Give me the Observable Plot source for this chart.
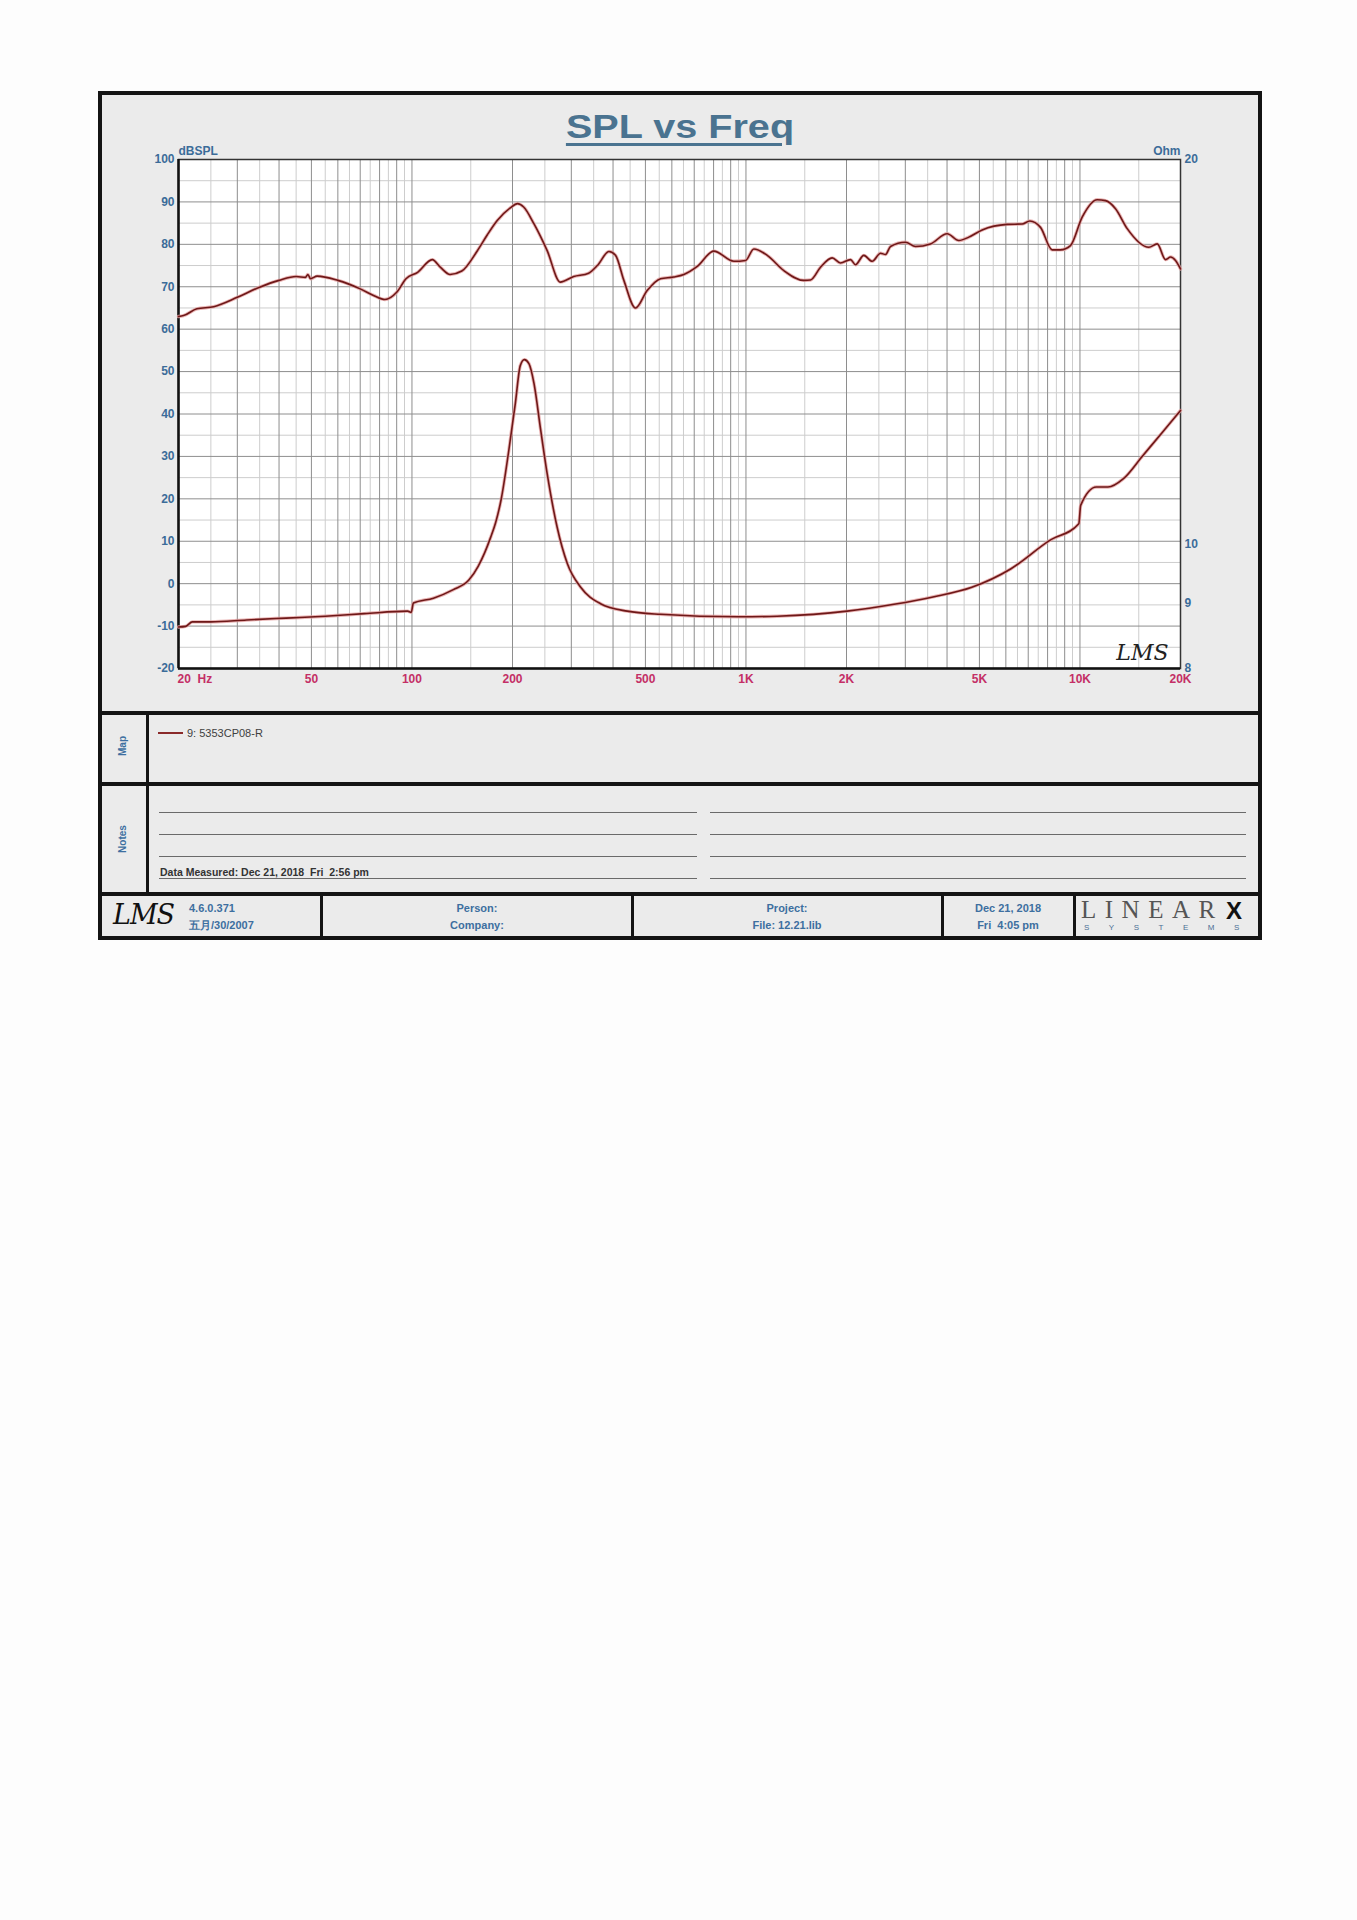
<!DOCTYPE html>
<html>
<head>
<meta charset="utf-8">
<script src="https://cdn.jsdelivr.net/npm/d3@7"></script>
<script src="https://cdn.jsdelivr.net/npm/@observablehq/plot@0.6"></script>
<style>
html,body{margin:0;padding:0;background:#fdfdfd;}
body{position:relative;width:1357px;height:1920px;overflow:hidden;font-family:Arial,"Liberation Sans",sans-serif;}
.box{position:absolute;box-sizing:border-box;}
.blk{position:absolute;background:#141414;}
.ln{position:absolute;height:1px;background:#6a6a6a;}
.t{position:absolute;white-space:pre;line-height:1;}
.blue{color:#3d6fa0;font-weight:bold;font-size:11px;}
.c{transform:translateX(-50%);text-align:center;}
</style>
</head>
<body>
<!-- outer frame and panel separators -->
<div class="box" style="left:98px;top:91px;width:1164px;height:849px;border:4px solid #141414;background:#ebebeb;"></div>
<div class="blk" style="left:98px;top:711px;width:1164px;height:4px;"></div>
<div class="blk" style="left:98px;top:782px;width:1164px;height:4px;"></div>
<div class="blk" style="left:98px;top:892px;width:1164px;height:4px;"></div>
<div class="blk" style="left:146px;top:711px;width:3px;height:185px;"></div>
<div class="blk" style="left:320px;top:892px;width:3px;height:48px;"></div>
<div class="blk" style="left:631px;top:892px;width:3px;height:48px;"></div>
<div class="blk" style="left:941px;top:892px;width:3px;height:48px;"></div>
<div class="blk" style="left:1073px;top:892px;width:3px;height:48px;"></div>

<!-- title -->
<div class="t" style="left:680px;top:110px;font-size:33px;font-weight:bold;color:#4a7390;text-decoration:underline;text-decoration-thickness:3px;text-underline-offset:5px;transform:translateX(-50%) scaleX(1.2);">SPL vs Freq</div>

<!-- chart -->
<div id="chart" style="position:absolute;left:120px;top:110px;width:1110px;height:590px;">
  <div id="p1" style="position:absolute;left:0;top:0;"></div>
  <div id="p2" style="position:absolute;left:0;top:0;"></div>
</div>

<!-- map panel -->
<div class="t blue" style="left:123px;top:746px;font-size:10px;transform:translate(-50%,-50%) rotate(-90deg);">Map</div>
<div style="position:absolute;left:158px;top:732px;width:25px;height:2px;background:#8a2a2a;"></div>
<div class="t" style="left:187px;top:728px;font-size:11px;color:#404040;">9: 5353CP08-R</div>

<!-- notes panel -->
<div class="t blue" style="left:123px;top:839px;font-size:10px;transform:translate(-50%,-50%) rotate(-90deg);">Notes</div>
<div class="ln" style="left:159px;top:812px;width:538px;"></div>
<div class="ln" style="left:159px;top:834px;width:538px;"></div>
<div class="ln" style="left:159px;top:856px;width:538px;"></div>
<div class="ln" style="left:159px;top:878px;width:538px;"></div>
<div class="ln" style="left:710px;top:812px;width:536px;"></div>
<div class="ln" style="left:710px;top:834px;width:536px;"></div>
<div class="ln" style="left:710px;top:856px;width:536px;"></div>
<div class="ln" style="left:710px;top:878px;width:536px;"></div>
<div class="t" style="left:160px;top:867px;font-size:10.5px;font-weight:bold;color:#333;">Data Measured: Dec 21, 2018  Fri  2:56 pm</div>

<!-- footer -->
<div class="t" style="left:113px;top:901px;font-size:27px;font-style:italic;font-family:'DejaVu Serif',serif;color:#111;letter-spacing:-1px;">LMS</div>
<div class="t blue" style="left:189px;top:903px;">4.6.0.371</div>
<div class="t blue" style="left:189px;top:920px;">五月/30/2007</div>
<div class="t blue c" style="left:477px;top:903px;">Person:</div>
<div class="t blue c" style="left:477px;top:920px;">Company:</div>
<div class="t blue c" style="left:787px;top:903px;">Project:</div>
<div class="t blue c" style="left:787px;top:920px;">File: 12.21.lib</div>
<div class="t blue c" style="left:1008px;top:903px;">Dec 21, 2018</div>
<div class="t blue c" style="left:1008px;top:920px;">Fri  4:05 pm</div>
<div class="t" style="left:1081px;top:897px;font-size:25px;font-family:'Liberation Serif','DejaVu Serif',serif;color:#555;letter-spacing:8.5px;">LINEAR</div>
<div class="t" style="left:1226px;top:899px;font-size:24px;font-weight:900;font-family:Arial,'Liberation Sans',sans-serif;color:#111;">X</div>
<div class="t" style="left:1084px;top:924px;font-size:8px;color:#4a6f95;letter-spacing:19.5px;">SYSTEMS</div>

<script>
// ---- data ----
// SPL curve (Hz, dB SPL)
const splFreq = [20,20.7,22.7,25.5,30,35,40,45,48,48.8,49.7,52,60,70,77,83,90,96,104,115,122,130,141,157,168,180,197,207,216,232,254,278,305,338,359,389,407,431,467,506,555,608,652,715,801,920,997,1056,1158,1299,1491,1561,1672,1812,1918,2056,2128,2253,2388,2529,2618,2709,3004,3218,3568,4004,4338,4648,5097,6057,6716,7078,7618,8258,8743,9369,10154,11262,11922,12776,13851,16078,17034,18040,18675,19322,20000];
const splDb = [63.0,63.2,64.8,65.3,67.5,69.9,71.5,72.4,72.2,72.9,71.9,72.5,71.5,69.5,67.9,67.0,68.7,71.9,73.4,76.4,74.5,72.9,73.7,78.5,82.2,85.6,88.6,89.6,88.8,84.8,78.5,71.1,72.4,73.2,75.0,78.3,77.4,71.5,65.0,69.1,71.9,72.3,72.9,74.8,78.4,76.0,76.2,78.9,77.4,73.8,71.5,71.6,74.6,76.8,75.6,76.4,75.2,77.4,76.0,77.9,77.6,79.5,80.5,79.5,80.1,82.5,80.9,81.7,83.4,84.7,84.8,85.5,84.0,78.7,78.7,79.7,86.4,90.5,90.3,88.4,83.7,79.3,80.1,76.4,77.0,76.2,74.2];
// Impedance curve (Hz, Ohm)
const zFreq = [20,21,22,25,32,42,55,72,97,99.5,101,116,133,148,158,165,172,178,185,195,204,211,217,224,232,243,254,272,292,320,367,441,555,950,1240,2010,2775,3630,4745,6200,8100,9920,10050,11200,12130,13500,15440,17660,20000];
const zOhm = [8.62,8.63,8.70,8.70,8.73,8.76,8.79,8.83,8.87,8.85,9.00,9.08,9.22,9.38,9.62,9.85,10.13,10.40,10.85,11.85,12.9,13.8,13.95,13.85,13.36,12.28,11.36,10.32,9.66,9.26,8.99,8.87,8.82,8.78,8.79,8.87,8.98,9.10,9.26,9.57,10.07,10.38,10.73,11.09,11.09,11.26,11.74,12.24,12.73];

// tick labels
const xTickVals = [20,50,100,200,500,1000,2000,5000,10000,20000];
const xTickLabels = ["20\u00a0\u00a0Hz","50","100","200","500","1K","2K","5K","10K","20K"];
const dbTicks = [-20,-10,0,10,20,30,40,50,60,70,80,90,100];
const ohmTicks = [8,9,10,20];
const axisTitleLeft = "dBSPL";
const axisTitleRight = "Ohm";

// grid values (1-9 x decade dark, half steps light)
const decadeStarts = [10,100,1000,10000];
const gridMajorHz = decadeStarts.flatMap(d => [1,2,3,4,5,6,7,8,9].map(m => m*d)).filter(v => v>=20 && v<=20000);
const gridHalfHz = decadeStarts.flatMap(d => [1.5,2.5,3.5,4.5,5.5,6.5,7.5,8.5,9.5].map(m => m*d)).filter(v => v>20 && v<20000);
const gridMajorDb = dbTicks.slice(1,-1);
const gridHalfDb = dbTicks.slice(0,-1).map(v => v+5);

const spl = splFreq.map((f,i) => ({f, v: splDb[i]}));
const imp = zFreq.map((f,i) => ({f, z: zOhm[i]}));
const xLab = xTickVals.map((v,i) => ({v, label: xTickLabels[i]}));

const font = 'Arial, "Liberation Sans", sans-serif';
const common = {
  width: 1110, height: 590,
  marginLeft: 58, marginRight: 50, marginTop: 49, marginBottom: 32,
  style: {background: "transparent", fontFamily: font, overflow: "visible"}
};
const blueLbl = "#3b6c99";
const redLbl = "#c42f66";
const lblSize = 12;

const p1 = Plot.plot({
  ...common,
  x: {type: "log", domain: [20, 20000], label: null, axis: null},
  y: {domain: [-20, 100], label: null},
  marks: [
    Plot.frame({fill: "white", stroke: null}),
    Plot.ruleX(gridHalfHz, {stroke: "#cdcdcd", strokeWidth: 1}),
    Plot.ruleY(gridHalfDb, {stroke: "#cdcdcd", strokeWidth: 1}),
    Plot.ruleX(gridMajorHz, {stroke: "#8e8e8e", strokeWidth: 1}),
    Plot.ruleY(gridMajorDb, {stroke: "#8e8e8e", strokeWidth: 1}),
    Plot.frame({stroke: "#333", strokeWidth: 1.5}),
    Plot.ruleX([20], {stroke: "#111", strokeWidth: 2.5}),
    Plot.ruleY([-20], {stroke: "#111", strokeWidth: 2.5}),
    Plot.axisY({ticks: dbTicks, tickFormat: d => String(d), tickSize: 0, tickPadding: 4, color: blueLbl, fontWeight: "bold", fontSize: lblSize, label: null}),
    Plot.text(xLab.slice(1), {x: "v", text: "label", frameAnchor: "bottom", textAnchor: "middle", lineAnchor: "top", dy: 6, fill: redLbl, fontWeight: "bold", fontSize: lblSize}),
    Plot.text(xLab.slice(0, 1), {x: "v", text: "label", frameAnchor: "bottom", textAnchor: "start", lineAnchor: "top", dy: 6, dx: -1, fill: redLbl, fontWeight: "bold", fontSize: lblSize}),
    Plot.text([axisTitleLeft], {frameAnchor: "top-left", text: d => d, textAnchor: "start", lineAnchor: "bottom", dy: -5, fill: blueLbl, fontWeight: "bold", fontSize: lblSize}),
    Plot.text(["LMS"], {frameAnchor: "bottom-right", text: d => d, textAnchor: "end", lineAnchor: "bottom", dx: -12, dy: -9, fill: "#222", fontSize: 22, fontStyle: "italic", fontFamily: "DejaVu Serif, serif"}),
    Plot.line(spl, {x: "f", y: "v", stroke: "#e4a0a0", strokeWidth: 3.4, strokeOpacity: 0.8, curve: "monotone-x"}),
    Plot.line(spl, {x: "f", y: "v", stroke: "#6e1818", strokeWidth: 1.6, curve: "monotone-x"})
  ]
});
document.getElementById("p1").append(p1);

const p2 = Plot.plot({
  ...common,
  x: {type: "log", domain: [20, 20000], axis: null, label: null},
  y: {type: "log", domain: [8, 20], axis: null, label: null},
  marks: [
    Plot.text(ohmTicks, {y: d => d, text: d => String(d), frameAnchor: "right", textAnchor: "start", dx: 4, fill: blueLbl, fontWeight: "bold", fontSize: lblSize}),
    Plot.text([axisTitleRight], {frameAnchor: "top-right", text: d => d, textAnchor: "end", lineAnchor: "bottom", dy: -5, fill: blueLbl, fontWeight: "bold", fontSize: lblSize}),
    Plot.line(imp, {x: "f", y: "z", stroke: "#e4a0a0", strokeWidth: 3.4, strokeOpacity: 0.8, curve: "monotone-x"}),
    Plot.line(imp, {x: "f", y: "z", stroke: "#6e1818", strokeWidth: 1.6, curve: "monotone-x"})
  ]
});
document.getElementById("p2").append(p2);
</script>
</body>
</html>
